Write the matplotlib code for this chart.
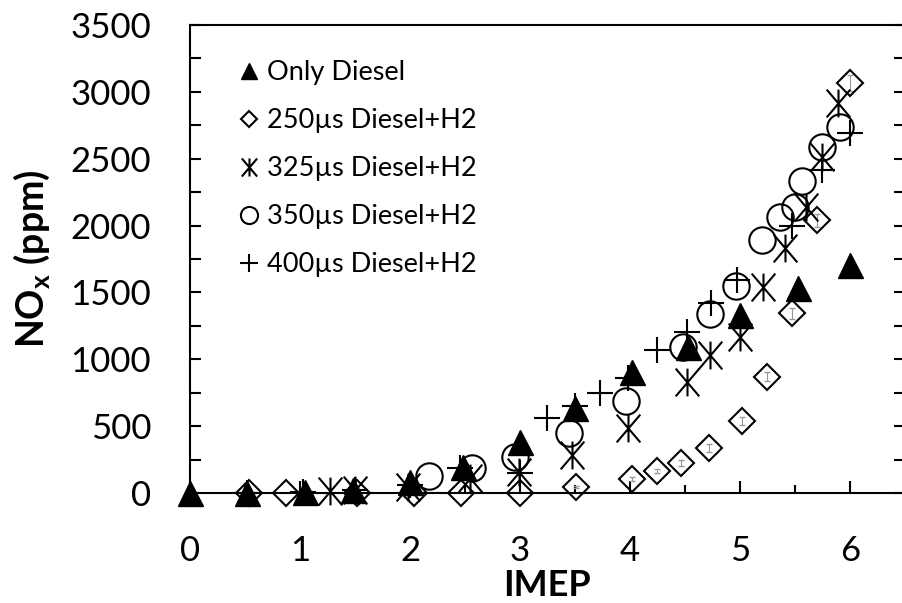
import matplotlib
matplotlib.use("Agg")
import matplotlib.pyplot as plt
from matplotlib.path import Path
from matplotlib.ticker import MultipleLocator

# Only diesel
x_diesel = [0.0, 0.52, 1.05, 1.48, 2.0, 2.48, 3.0, 3.5, 4.02, 4.53, 5.0, 5.53, 6.0]
y_diesel = [0, 0, 5, 20, 85, 195, 385, 635, 905, 1090, 1330, 1530, 1705]

# 250us
x_250 = [0.54, 0.87, 1.52, 2.04, 2.46, 3.0, 3.51, 4.02, 4.25, 4.46, 4.72, 5.02, 5.25, 5.47, 5.7, 6.0]
y_250 = [0, 0, 0, 0, 0, 0, 45, 105, 165, 225, 335, 540, 870, 1345, 2040, 3065]
err_250 = [0, 0, 0, 0, 0, 0, 10, 12, 15, 20, 30, 30, 35, 40, 50, 60]

# 325us
x_325 = [1.27, 1.5, 1.98, 2.55, 2.99, 3.47, 3.98, 4.52, 4.73, 5.0, 5.21, 5.41, 5.6, 5.75, 5.89]
y_325 = [15, 20, 45, 110, 155, 285, 485, 830, 1030, 1170, 1540, 1835, 2140, 2510, 2915]

# 350us
x_350 = [2.17, 2.56, 2.95, 3.45, 3.96, 4.48, 4.73, 4.96, 5.2, 5.36, 5.5, 5.56, 5.75, 5.91]
y_350 = [130, 185, 270, 450, 690, 1095, 1335, 1545, 1895, 2065, 2140, 2330, 2590, 2740]

# 400us
x_400 = [0.52, 1.03, 1.5, 2.0, 2.45, 3.0, 3.25, 3.5, 3.73, 3.98, 4.25, 4.52, 4.74, 4.97, 5.47, 5.75, 6.0]
y_400 = [0, 10, 20, 60, 190, 150, 560, 650, 748, 860, 1070, 1205, 1420, 1590, 2000, 2415, 2690]

labels = ["Only Diesel", "250µs Diesel+H2", "325µs Diesel+H2",
          "350µs Diesel+H2", "400µs Diesel+H2"]

plt.rcParams['font.family'] = ['Lato', 'DejaVu Sans']
plt.rcParams['mathtext.fontset'] = 'custom'
plt.rcParams['mathtext.bf'] = 'Lato:bold'
plt.rcParams['mathtext.rm'] = 'Lato'

star = Path([(0, -1), (0, 1), (-0.85, -1), (0.85, 1), (-0.85, 1), (0.85, -1)],
            [Path.MOVETO, Path.LINETO, Path.MOVETO, Path.LINETO, Path.MOVETO, Path.LINETO])

fig = plt.figure(figsize=(9.03, 6.03), dpi=100)
ax = fig.add_axes([190 / 903, 110 / 603, 715 / 903, 468 / 603])

lw = 1.5
ax.errorbar(x_250, y_250, yerr=err_250, fmt='none', ecolor='#999999',
            elinewidth=0.8, capsize=2, zorder=2)
h250, = ax.plot(x_250, y_250, 'D', ms=13, mfc='none', mec='black', mew=lw,
                clip_on=False, zorder=3, label=labels[1])
h325, = ax.plot(x_325, y_325, ls='none', marker=star, ms=20, mfc='none',
                mec='black', mew=lw, clip_on=False, zorder=3, label=labels[2])
h350, = ax.plot(x_350, y_350, 'o', ms=19, mfc='none', mec='black', mew=lw,
                clip_on=False, zorder=3, label=labels[3])
h400, = ax.plot(x_400, y_400, '+', ms=19, mec='black', mew=lw,
                clip_on=False, zorder=3, label=labels[4])
hd, = ax.plot(x_diesel, y_diesel, '^', ms=18, color='black',
              clip_on=False, zorder=4, label=labels[0])

ax.set_xlim(0, 6.5)
ax.set_ylim(0, 3500)
ax.xaxis.set_major_locator(MultipleLocator(1))
ax.xaxis.set_minor_locator(MultipleLocator(0.5))
ax.yaxis.set_major_locator(MultipleLocator(500))
ax.yaxis.set_minor_locator(MultipleLocator(250))
ax.tick_params(axis='both', which='both', direction='in', width=1.5,
               labelsize=25, pad=30, right=True)
ax.tick_params(axis='y', pad=28)
ax.tick_params(axis='x', which='major', length=9)
ax.tick_params(axis='x', which='minor', length=6)
ax.tick_params(axis='y', which='both', length=8)
for s in ax.spines.values():
    s.set_linewidth(1.5)

ax.set_xlabel("IMEP", fontsize=26, fontweight='bold', labelpad=2)
ax.set_ylabel(r"NO$_\mathbf{x}$ (ppm)", fontsize=27, fontweight='bold', labelpad=13)

leg = ax.legend(handles=[hd, h250, h325, h350, h400], loc='upper left',
                bbox_to_anchor=(0.045, 0.965), frameon=False, fontsize=19.5,
                handlelength=0.6, handletextpad=0.35, labelspacing=0.85,
                markerscale=0.65, borderaxespad=0.3)

fig.savefig("out.png", dpi=100)
